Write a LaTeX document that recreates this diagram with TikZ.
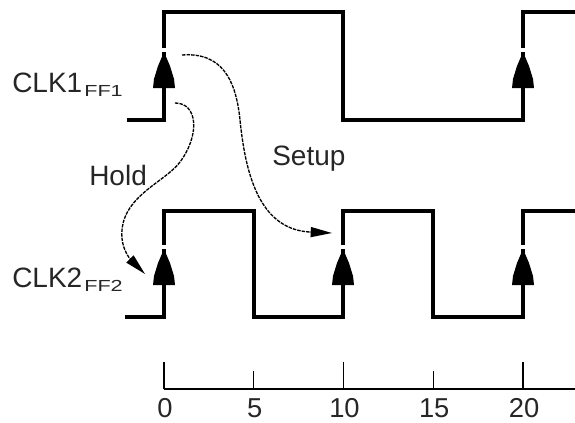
\documentclass[tikz,border=0pt]{standalone}
\usepackage{fontspec}
\usepackage{graphicx}
\setmainfont{Liberation Sans}
\usetikzlibrary{arrows.meta}
\begin{document}
\begin{tikzpicture}[x=0.75pt,y=-0.75pt,
  wave/.style={line width=3.6pt, line join=miter, line cap=butt},
  axisline/.style={line width=1pt},
  lbl/.style={anchor=base west, inner sep=0pt, text=black!85, font=\fontsize{21}{25}\selectfont},
  ticklbl/.style={anchor=base, inner sep=0pt, text=black!85, font=\fontsize{20.5}{24}\selectfont},
  timingarrow/.style={line width=1pt, dash pattern=on 2.6pt off 0.8pt,
    -{Triangle[length=16pt,width=7.5pt]}},
  edgemark/.pic={
    \fill[white] (-3,-4) rectangle (3,0);
    \fill[black] (0,0) -- (6,14) -- (10,27) -- (11,36) -- (-11,36) -- (-10,27) -- (-6,14) -- cycle;
  }]
\useasboundingbox (0,0) rectangle (575,422);

% CLK1 waveform
\draw[wave] (127,120) -- (164,120) -- (164,12) -- (343,12) -- (343,120) -- (523,120) -- (523,12) -- (576,12);
% CLK2 waveform
\draw[wave] (125,317) -- (164,317) -- (164,211) -- (254,211) -- (254,317) -- (343,317) -- (343,211)
  -- (433,211) -- (433,317) -- (523,317) -- (523,211) -- (576,211);

% edge markers
\pic at (164,52) {edgemark};
\pic at (523,52) {edgemark};
\pic at (164,249) {edgemark};
\pic at (343,249) {edgemark};
\pic at (523,249) {edgemark};

% labels
\node[lbl] (clk1) at (12,92) {CLK1\hspace{1.5pt}\raisebox{-3pt}{\scalebox{1.35}[1]{\fontsize{12}{14}\selectfont FF1}}};
\node[lbl] (clk2) at (12,287) {CLK2\hspace{1.5pt}\raisebox{-3pt}{\scalebox{1.35}[1]{\fontsize{12}{14}\selectfont FF2}}};
\node[lbl] (hold) at (89,185) {Hold};
\node[lbl] (setup) at (272,165) {Setup};

% hold / setup connectors
\coordinate (hs) at (175,103);
\coordinate (he) at (145,274);
\coordinate (ss) at (182,55);
\coordinate (se) at (332,233);
\draw[timingarrow] (hs) .. controls (198,103) and (200,135) .. (180,162)
  .. controls (165,182) and (125,195) .. (122,230)
  .. controls (120,250) and (133,262) .. (he);
\draw[timingarrow] (ss) .. controls (222,52) and (236,80) .. (240,120)
  .. controls (246,180) and (262,230) .. (se);

% time axis
\coordinate (a0) at (164,389);
\coordinate (aend) at (576,389);
\draw[axisline] (a0) -- (aend);
\foreach \t/\h in {0/27,5/18,10/27,15/18,20/27} {
  \pgfmathsetmacro{\xx}{164+17.95*\t}
  \draw[axisline] (\xx,389) -- (\xx,389-\h);
  \node[ticklbl] (t\t) at (\xx+1,417) {\t};
}
\end{tikzpicture}
\end{document}
